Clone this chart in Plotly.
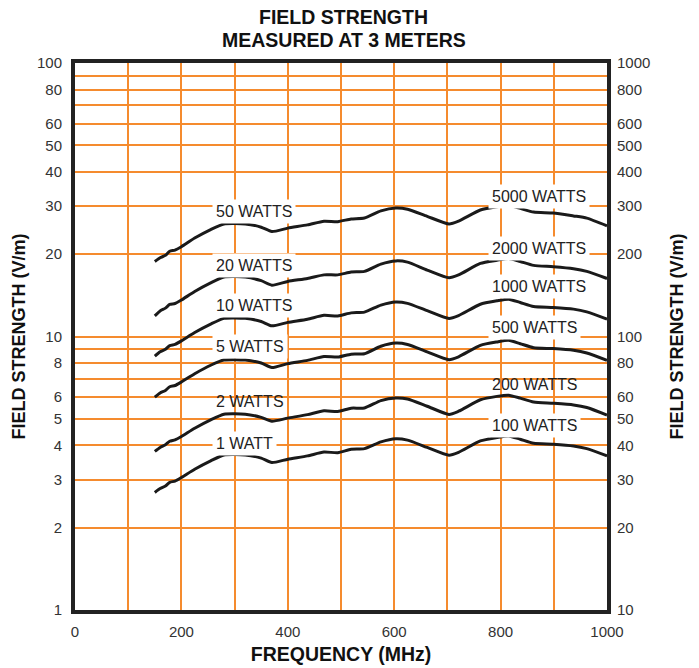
import math
import plotly.graph_objects as go

# Frequencies (MHz) at which the curves were read
freq = [150, 160, 170, 178, 188, 200, 225, 255, 280, 320, 350, 370, 400, 437, 468, 494,
        519, 544, 575, 603, 625, 662, 703, 721, 762, 793, 815, 837, 862, 899, 937, 962, 1000]

# Field strength (V/m, left axis) for each amplifier power
w1 = [2.69, 2.78, 2.84, 2.93, 2.96, 3.05, 3.27, 3.51, 3.69, 3.69, 3.59, 3.46, 3.56, 3.66, 3.78, 3.76,
      3.87, 3.89, 4.12, 4.23, 4.18, 3.93, 3.68, 3.77, 4.15, 4.27, 4.33, 4.21, 4.07, 4.04, 3.98, 3.89, 3.66]
w2 = [3.80, 3.93, 4.02, 4.14, 4.19, 4.31, 4.62, 4.96, 5.20, 5.20, 5.06, 4.90, 5.03, 5.18, 5.35, 5.32,
      5.47, 5.48, 5.83, 5.96, 5.91, 5.56, 5.19, 5.33, 5.87, 6.04, 6.10, 5.95, 5.76, 5.70, 5.62, 5.50, 5.16]
w5 = [6.00, 6.22, 6.35, 6.55, 6.62, 6.82, 7.31, 7.85, 8.20, 8.20, 8.00, 7.70, 7.96, 8.18, 8.45, 8.41,
      8.62, 8.65, 9.21, 9.46, 9.35, 8.79, 8.23, 8.43, 9.28, 9.55, 9.68, 9.41, 9.10, 9.03, 8.90, 8.70, 8.18]
w10 = [8.47, 8.79, 8.98, 9.26, 9.36, 9.64, 10.34, 11.10, 11.65, 11.65, 11.35, 10.94, 11.26, 11.57, 11.95, 11.89,
       12.20, 12.28, 13.03, 13.38, 13.22, 12.43, 11.64, 11.92, 13.12, 13.50, 13.69, 13.31, 12.87, 12.77, 12.59, 12.30, 11.57]
w20 = [11.9, 12.4, 12.7, 13.1, 13.2, 13.6, 14.6, 15.7, 16.5, 16.5, 16.0, 15.4, 15.9, 16.3, 16.8, 16.8,
       17.2, 17.3, 18.4, 18.9, 18.7, 17.5, 16.4, 16.8, 18.5, 19.0, 19.3, 18.8, 18.2, 18.0, 17.7, 17.3, 16.3]
w50 = [18.8, 19.4, 19.8, 20.5, 20.7, 21.3, 22.9, 24.6, 25.8, 25.8, 25.1, 24.2, 24.9, 25.6, 26.4, 26.3,
       26.9, 27.1, 28.8, 29.5, 29.2, 27.5, 25.8, 26.4, 29.0, 29.8, 30.1, 29.4, 28.5, 28.3, 27.6, 27.1, 25.4]

series = [w1, w2, w5, w10, w20, w50]

# Curve labels
left_labels = ["1 WATT", "2 WATTS", "5 WATTS", "10 WATTS", "20 WATTS", "50 WATTS"]
left_label_x = [258, 258, 258, 258, 258, 258]
left_label_y = [4.07, 5.79, 9.22, 13.0, 18.2, 28.6]
left_label_box = [True, False, True, True, True, True]
right_labels = ["100 WATTS", "200 WATTS", "500 WATTS", "1000 WATTS", "2000 WATTS", "5000 WATTS"]
right_label_x = [776, 776, 776, 776, 776, 776]
right_label_y = [4.73, 6.68, 10.8, 15.2, 20.9, 32.5]
right_label_box = [True, False, True, True, True, True]

# Axis ticks
x_ticks = [0, 100, 200, 300, 400, 500, 600, 700, 800, 900, 1000]
x_text = ["0", "", "200", "", "400", "", "600", "", "800", "", "1000"]
y_ticks = [1, 2, 3, 4, 5, 6, 7, 8, 9, 10, 20, 30, 40, 50, 60, 70, 80, 90, 100]
y_text = ["1", "2", "3", "4", "5", "6", "", "8", "", "10", "20", "30", "40", "50", "60", "", "80", "", "100"]
y2_ticks = [10, 20, 30, 40, 50, 60, 80, 100, 200, 300, 400, 500, 600, 800, 1000]
y2_text = ["10", "20", "30", "40", "50", "60", "80", "100", "200", "300", "400", "500", "600", "800", "1000"]

FONT = "Liberation Sans, Arial, Helvetica, sans-serif"
GRID = "#F58B2E"
W, H = 699, 668
ML, MR, MT, MB = 75, 92, 63, 58
PH = H - MT - MB

fig = go.Figure()
for s in series:
    fig.add_trace(go.Scatter(x=freq, y=s, mode="lines",
                             line=dict(color="#1a1a1a", width=3, shape="spline", smoothing=0.6),
                             showlegend=False, hoverinfo="skip"))
# invisible trace to activate y2
fig.add_trace(go.Scatter(x=[0], y=[10], yaxis="y2", mode="markers",
                         marker=dict(opacity=0), showlegend=False, hoverinfo="skip"))

for txt, xv, yv, box in zip(left_labels + right_labels, left_label_x + right_label_x,
                            left_label_y + right_label_y, left_label_box + right_label_box):
    fig.add_annotation(x=xv, y=math.log10(yv), xref="x", yref="y", text=txt,
                       showarrow=False, xanchor="left", yanchor="middle",
                       font=dict(family=FONT, size=16, color="#222"),
                       bgcolor="white" if box else "rgba(0,0,0,0)", borderpad=3)

# Title (two lines)
for txt, py in [("<b>FIELD STRENGTH</b>", 17), ("<b>MEASURED AT 3 METERS</b>", 40)]:
    fig.add_annotation(x=0.505, y=(H - MB - py) / PH, xref="paper", yref="paper", text=txt,
                       showarrow=False, xanchor="center", yanchor="middle",
                       font=dict(family=FONT, size=19.5, color="#111"))

axis_common = dict(showgrid=True, gridcolor=GRID, gridwidth=1.5, showline=True,
                   linecolor="#222", linewidth=4, mirror=True, zeroline=False, automargin=False,
                   tickfont=dict(family=FONT, size=15, color="#333"))

fig.update_layout(
    width=W, height=H,
    margin=dict(l=ML, r=MR, t=MT, b=MB),
    paper_bgcolor="white", plot_bgcolor="white",
    xaxis=dict(range=[0, 1000], tickvals=x_ticks, ticktext=x_text, ticks="outside", ticklen=5,
               tickcolor="rgba(0,0,0,0)",
               title=dict(text="<b>FREQUENCY (MHz)</b>", standoff=9,
                          font=dict(family=FONT, size=19.5, color="#111")), **axis_common),
    yaxis=dict(type="log", range=[0, 2], tickvals=y_ticks, ticktext=y_text, ticks="outside",
               ticklen=6, tickcolor="rgba(0,0,0,0)",
               title=dict(text="<b>FIELD STRENGTH (V/m)</b>", standoff=8,
                          font=dict(family=FONT, size=18, color="#111")), **axis_common),
    yaxis2=dict(type="log", range=[1, 3], overlaying="y", side="right", tickvals=y2_ticks,
                ticktext=y2_text, showgrid=False, ticks="outside", ticklen=6,
                tickcolor="rgba(0,0,0,0)", zeroline=False, showline=False, automargin=False,
                tickfont=dict(family=FONT, size=15, color="#333"),
                title=dict(text="<b>FIELD STRENGTH (V/m)</b>", standoff=21,
                           font=dict(family=FONT, size=18, color="#111"))),
)

fig.write_html("out.html", config={"displayModeBar": False},
               post_script="document.body.style.margin='0';")
